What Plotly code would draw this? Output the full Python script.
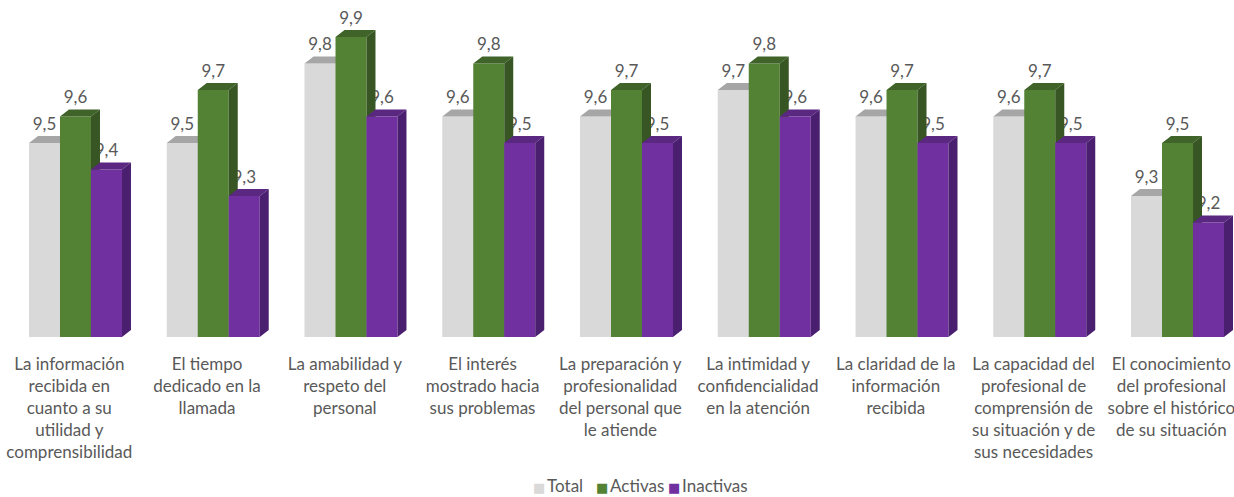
import plotly.graph_objects as go

categories = [
    "La información<br>recibida en<br>cuanto a su<br>utilidad y<br>comprensibilidad",
    "El tiempo<br>dedicado en la<br>llamada",
    "La amabilidad y<br>respeto del<br>personal",
    "El interés<br>mostrado hacia<br>sus problemas",
    "La preparación y<br>profesionalidad<br>del personal que<br>le atiende",
    "La intimidad y<br>confidencialidad<br>en la atención",
    "La claridad de la<br>información<br>recibida",
    "La capacidad del<br>profesional de<br>comprensión de<br>su situación y de<br>sus necesidades",
    "El conocimiento<br>del profesional<br>sobre el histórico<br>de su situación",
]
total = [9.5, 9.5, 9.8, 9.6, 9.6, 9.7, 9.6, 9.6, 9.3]
activas = [9.6, 9.7, 9.9, 9.8, 9.7, 9.8, 9.7, 9.7, 9.5]
inactivas = [9.4, 9.3, 9.6, 9.5, 9.5, 9.6, 9.5, 9.5, 9.2]

series = [
    ("Total", total, "#D9D9D9", "#A6A6A6", "#BFBFBF"),
    ("Activas", activas, "#548235", "#3F6328", "#375623"),
    ("Inactivas", inactivas, "#7030A0", "#5A2781", "#4B1F6F"),
]

# geometry (axis units)
BASE = 8.768
BAR_W = 0.225            # width of one front face
DX, DY = 0.0653, 0.0264  # depth offset of the 3D faces
LABEL_OFF = 0.066
FONT = "Lato, Carlito, Calibri, sans-serif"
TXT = "#595959"

fig = go.Figure()

# data labels first so later bar faces may overlap them
for k, (name, vals, front, top, side) in enumerate(series):
    xs = [i + (k - 1) * BAR_W for i in range(len(vals))]
    fig.add_trace(go.Scatter(
        x=xs, y=[v + LABEL_OFF for v in vals], mode="text",
        text=[f"{v:.1f}".replace(".", ",") for v in vals],
        textposition="middle center",
        textfont=dict(family=FONT, size=17, color=TXT),
        showlegend=False, hoverinfo="skip", cliponaxis=False,
    ))


def faces(vals, k):
    fx, fy, tx, ty, sx, sy = [], [], [], [], [], []
    for i, v in enumerate(vals):
        x0 = i + (k - 1.5) * BAR_W
        x1 = x0 + BAR_W
        fx += [x0, x1, x1, x0, x0, None]
        fy += [BASE, BASE, v, v, BASE, None]
        tx += [x0, x1, x1 + DX, x0 + DX, x0, None]
        ty += [v, v, v + DY, v + DY, v, None]
        sx += [x1, x1 + DX, x1 + DX, x1, x1, None]
        sy += [BASE, BASE + DY, v + DY, v, BASE, None]
    return (fx, fy), (tx, ty), (sx, sy)


for k, (name, vals, front, top, side) in enumerate(series):
    (fx, fy), (tx, ty), (sx, sy) = faces(vals, k)
    for (px, py), col in (((fx, fy), front), ((tx, ty), top), ((sx, sy), side)):
        fig.add_trace(go.Scatter(
            x=px, y=py, mode="lines", fill="toself", fillcolor=col,
            line=dict(width=0, color=col), showlegend=False, hoverinfo="skip",
            name=name,
        ))

# legend: coloured square followed by the series name
legend_x = [531, 594, 666]
for (name, vals, front, top, side), lx in zip(series, legend_x):
    fig.add_annotation(
        xref="paper", yref="paper", x=lx / 1234, y=-0.44,
        xanchor="left", yanchor="middle", showarrow=False,
        text=f'<span style="color:{front};font-family:DejaVu Sans;font-size:13px">■</span>'
             f'<span style="font-size:7px"> </span>{name}',
        font=dict(family=FONT, size=17, color=TXT),
    )

fig.update_layout(
    width=1234, height=497,
    margin=dict(l=0, r=0, t=0, b=160, autoexpand=False),
    paper_bgcolor="white", plot_bgcolor="white",
    font=dict(family=FONT, size=17, color=TXT),
    xaxis=dict(
        range=[-0.548, 8.410], showgrid=False, zeroline=False, showline=False,
        tickvals=[i - 0.045 for i in range(len(categories))],
        ticktext=categories, tickfont=dict(family=FONT, size=17, color=TXT),
        ticks="", ticklabelstandoff=15, automargin=False,
        ticklabeloverflow="allow",
    ),
    yaxis=dict(range=[BASE, 10.04], visible=False),
    showlegend=False,
)

fig.write_html("out.html")
